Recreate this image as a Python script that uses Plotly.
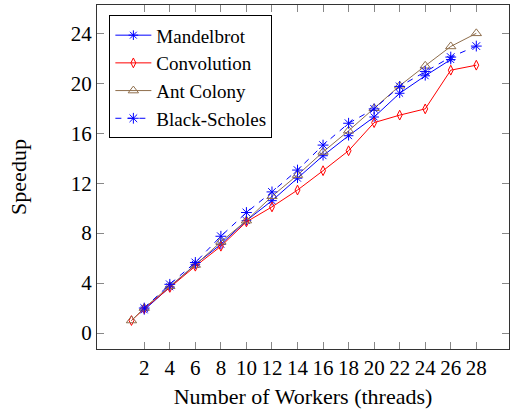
import plotly.graph_objects as go

workers_mandel = [2, 4, 6, 8, 10, 12, 14, 16, 18, 20, 22, 24, 26]
mandelbrot = [1.85, 3.7, 5.5, 7.1, 9.0, 10.6, 12.4, 14.2, 15.8, 17.3, 19.2, 20.6, 21.9]

workers_conv = [1, 2, 4, 6, 8, 10, 12, 14, 16, 18, 20, 22, 24, 26, 28]
convolution = [1.0, 1.95, 3.65, 5.35, 6.95, 8.9, 10.1, 11.45, 13.0, 14.6, 16.85, 17.45, 17.95, 21.05, 21.45]

workers_ant = [1, 2, 4, 6, 8, 10, 12, 14, 16, 18, 20, 22, 24, 26, 28]
ant_colony = [1.0, 2.0, 3.75, 5.45, 7.3, 9.0, 10.95, 12.65, 14.5, 16.2, 18.0, 19.8, 21.4, 22.95, 24.0]

workers_bs = [2, 4, 6, 8, 10, 12, 14, 16, 18, 20, 22, 24, 26, 28]
black_scholes = [2.0, 3.9, 5.65, 7.75, 9.65, 11.3, 13.05, 15.05, 16.8, 17.95, 19.75, 20.95, 22.1, 22.98]

x_ticks = [2, 4, 6, 8, 10, 12, 14, 16, 18, 20, 22, 24, 26, 28]
y_ticks = [0, 4, 8, 12, 16, 20, 24]

FONT = "Liberation Serif, Times New Roman, Times, serif"
BROWN = "#8F6E4C"

fig = go.Figure()
fig.add_trace(go.Scatter(
    x=workers_mandel, y=mandelbrot, name="Mandelbrot", mode="lines+markers",
    line=dict(color="blue", width=1),
    marker=dict(symbol="asterisk-open", size=8, color="blue", line=dict(color="blue", width=1)),
))
fig.add_trace(go.Scatter(
    x=workers_conv, y=convolution, name="Convolution", mode="lines+markers",
    line=dict(color="red", width=1),
    marker=dict(symbol="diamond-tall-open", size=7, color="red", line=dict(color="red", width=1)),
))
fig.add_trace(go.Scatter(
    x=workers_ant, y=ant_colony, name="Ant Colony", mode="lines+markers",
    line=dict(color=BROWN, width=1),
    marker=dict(symbol="triangle-up-open", size=9, color=BROWN, line=dict(color=BROWN, width=1)),
))
fig.add_trace(go.Scatter(
    x=workers_bs, y=black_scholes, name="Black-Scholes", mode="lines+markers",
    line=dict(color="blue", width=1, dash="6px,6px"),
    marker=dict(symbol="asterisk-open", size=9, color="blue", line=dict(color="blue", width=1)),
))

fig.update_layout(
    width=511, height=413,
    margin=dict(l=97, r=2, t=5, b=64),
    paper_bgcolor="white", plot_bgcolor="white",
    font=dict(family=FONT, size=21, color="black"),
    showlegend=True,
    legend=dict(
        x=0.03, y=0.97, xanchor="left", yanchor="top",
        bordercolor="black", borderwidth=1, bgcolor="white",
        font=dict(family=FONT, size=19),
        tracegroupgap=0, itemwidth=36,
    ),
)
fig.update_xaxes(
    range=[-1.7, 30.56], tickmode="array", tickvals=x_ticks,
    ticks="inside", ticklen=7, tickcolor="#888", tickwidth=1,
    showline=True, linecolor="#333", linewidth=1, mirror="ticks",
    showgrid=False, zeroline=False,
    title=dict(text="Number of Workers (threads)", font=dict(family=FONT, size=22), standoff=9),
    tickfont=dict(family=FONT, size=21),
)
fig.update_yaxes(
    range=[-1.28, 26.27], tickmode="array", tickvals=y_ticks,
    ticks="inside", ticklen=7, tickcolor="#888", tickwidth=1,
    showline=True, linecolor="#333", linewidth=1, mirror="ticks",
    showgrid=False, zeroline=False,
    title=dict(text="Speedup", font=dict(family=FONT, size=22), standoff=38),
    tickfont=dict(family=FONT, size=21),
)

fig.write_html("out.html", config={"displayModeBar": False},
               post_script="document.body.style.margin='0px';")
